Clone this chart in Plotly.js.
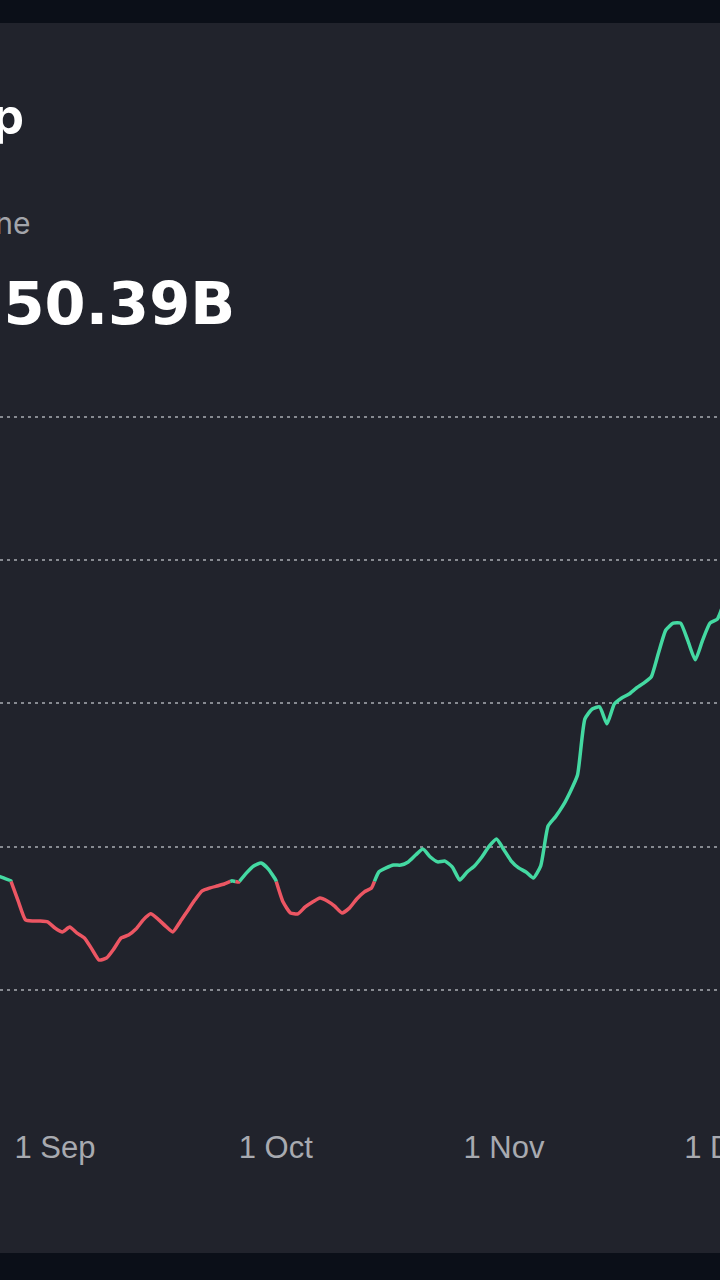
<!DOCTYPE html>
<html>
<head>
<meta charset="utf-8">
<script src="https://cdn.plot.ly/plotly-3.0.1.min.js"></script>
<style>
  html, body { margin: 0; padding: 0; width: 720px; height: 1280px; overflow: hidden; background: #0b0f18; }
  #chart { position: absolute; top: 23px; left: -140px; width: 1000px; height: 1230px; }
</style>
</head>
<body>
<div id="chart"></div>
<script>
// ---- data (billions USD, daily) ----
const dates = [
  '2024-08-23','2024-08-24','2024-08-25','2024-08-26','2024-08-27','2024-08-28','2024-08-29','2024-08-30','2024-08-31',
  '2024-09-01','2024-09-02','2024-09-03','2024-09-04','2024-09-05','2024-09-06','2024-09-07','2024-09-08','2024-09-09','2024-09-10',
  '2024-09-11','2024-09-12','2024-09-13','2024-09-14','2024-09-15','2024-09-16','2024-09-17','2024-09-18','2024-09-19','2024-09-20',
  '2024-09-21','2024-09-22','2024-09-23','2024-09-24','2024-09-25','2024-09-26','2024-09-27','2024-09-28','2024-09-29','2024-09-30',
  '2024-10-01','2024-10-02','2024-10-03','2024-10-04','2024-10-05','2024-10-06','2024-10-07','2024-10-08','2024-10-09','2024-10-10',
  '2024-10-11','2024-10-12','2024-10-13','2024-10-14','2024-10-15','2024-10-16','2024-10-17','2024-10-18','2024-10-19','2024-10-20',
  '2024-10-21','2024-10-22','2024-10-23','2024-10-24','2024-10-25','2024-10-26','2024-10-27','2024-10-28','2024-10-29','2024-10-30',
  '2024-10-31','2024-11-01','2024-11-02','2024-11-03','2024-11-04','2024-11-05','2024-11-06','2024-11-07','2024-11-08','2024-11-09',
  '2024-11-10','2024-11-11','2024-11-12','2024-11-13','2024-11-14','2024-11-15','2024-11-16','2024-11-17','2024-11-18','2024-11-19',
  '2024-11-20','2024-11-21','2024-11-22','2024-11-23','2024-11-24','2024-11-25','2024-11-26','2024-11-27','2024-11-28','2024-11-29',
  '2024-11-30','2024-12-01'
];
const marketCap = [
  2413, 2402, 2392, 2382, 2312, 2246, 2242, 2242, 2239,
  2218, 2204, 2221, 2200, 2183, 2145, 2106, 2113, 2145, 2183,
  2193, 2214, 2246, 2267, 2249, 2225, 2204, 2239, 2277, 2315,
  2347, 2357, 2364, 2371, 2382, 2378, 2409, 2434, 2444, 2423,
  2385, 2308, 2270, 2267, 2291, 2308, 2322, 2312, 2294, 2270,
  2287, 2319, 2343, 2357, 2413, 2427, 2437, 2437, 2448, 2472,
  2493, 2465, 2448, 2451, 2430, 2385, 2413, 2434, 2465, 2503,
  2528, 2490, 2451, 2427, 2413, 2392, 2434, 2573, 2605, 2643,
  2692, 2751, 2946, 2981, 2988, 2929, 2998, 3019, 3033, 3054,
  3071, 3092, 3176, 3256, 3280, 3280, 3218, 3152, 3221, 3280,
  3294, 3361
];
const baseline = 2380;
const gridValues = [2000, 2500, 3000, 3500, 4000];
const titleText = 'Market Cap';
const subtitleText = 'Baseline';
const valueText = '$3,250.39B';

// ---- split into above / below baseline segments ----
const xs = dates.map(d => Date.parse(d));
const upX = [], upY = [], dnX = [], dnY = [];
for (let i = 0; i < xs.length; i++) {
  const v = marketCap[i];
  if (i > 0) {
    const v0 = marketCap[i - 1];
    if ((v0 - baseline) * (v - baseline) < 0) {
      const t = (baseline - v0) / (v - v0);
      const xc = xs[i - 1] + t * (xs[i] - xs[i - 1]);
      upX.push(xc); upY.push(baseline);
      dnX.push(xc); dnY.push(baseline);
      if (v0 >= baseline) { upX.push(null); upY.push(null); }
      else { dnX.push(null); dnY.push(null); }
    }
  }
  if (v >= baseline) { upX.push(xs[i]); upY.push(v); }
  else { dnX.push(xs[i]); dnY.push(v); }
}

const green = '#44d9a2';
const red = '#ec5663';

const traces = [
  { x: dnX, y: dnY, type: 'scatter', mode: 'lines', connectgaps: false,
    line: { color: red, width: 3.5, shape: 'spline', smoothing: 0.5 }, hoverinfo: 'skip' },
  { x: upX, y: upY, type: 'scatter', mode: 'lines', connectgaps: false,
    line: { color: green, width: 3.5, shape: 'spline', smoothing: 0.5 }, hoverinfo: 'skip' }
];

const layout = {
  width: 1000, height: 1230,
  margin: { l: 0, r: 0, t: 372, b: 143 },
  paper_bgcolor: '#21232c',
  plot_bgcolor: '#21232c',
  showlegend: false,
  xaxis: {
    type: 'date',
    range: ['2024-08-05 12:15', '2024-12-19 09:07'],
    tick0: '2024-08-01', dtick: 'M1', tickformat: '%-d %b',
    showgrid: false, zeroline: false, showline: false,
    ticks: 'outside', ticklen: 10, tickcolor: 'rgba(0,0,0,0)',
    tickfont: { family: 'Liberation Sans, Arial, sans-serif', size: 31, color: '#a8aab0' }
  },
  yaxis: {
    range: [1583.6, 4074.9],
    tickmode: 'array', tickvals: gridValues,
    showticklabels: false, zeroline: false, showline: false,
    showgrid: true, gridcolor: '#878a91', gridwidth: 2, griddash: '3px,4px'
  },
  annotations: [
    { xref: 'paper', yref: 'paper', x: 0.166, y: 1.3900, xanchor: 'right', yanchor: 'middle',
      text: titleText, showarrow: false,
      font: { family: 'Inter, Liberation Sans, sans-serif', size: 50, color: '#ffffff', weight: 700 } },
    { xref: 'paper', yref: 'paper', x: 0.173, y: 1.2410, xanchor: 'right', yanchor: 'middle',
      text: subtitleText, showarrow: false,
      font: { family: 'Inter, Liberation Sans, sans-serif', size: 30, color: '#a3a5ab' } },
    { xref: 'paper', yref: 'paper', x: 0.377, y: 1.1280, xanchor: 'right', yanchor: 'middle',
      text: valueText, showarrow: false,
      font: { family: 'DejaVu Sans, sans-serif', size: 59, color: '#ffffff', weight: 700 } }
  ]
};

Plotly.newPlot('chart', traces, layout, { staticPlot: true, displayModeBar: false });
</script>
</body>
</html>
